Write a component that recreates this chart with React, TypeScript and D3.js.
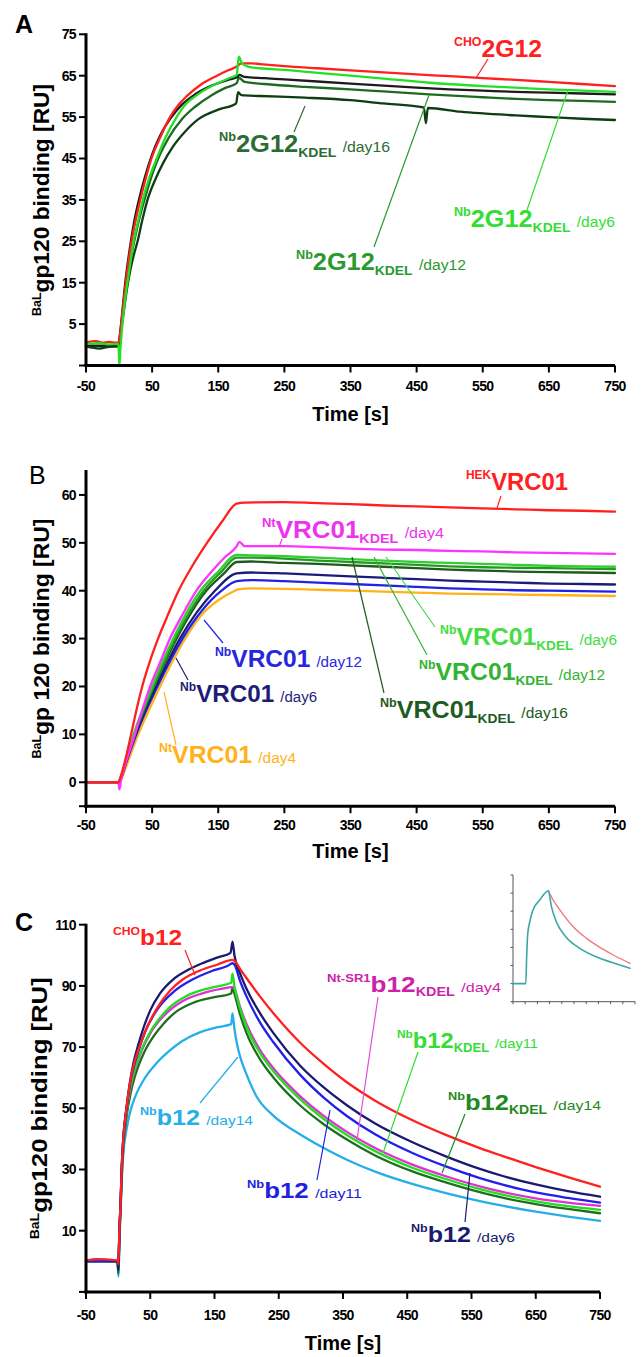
import React from 'react';
import * as d3 from 'd3';

type P = [number, number];

// ---------- Panel A : 2G12 ----------
const aTicksX = [-50, 50, 150, 250, 350, 450, 550, 650, 750];
const aTicksY = [5, 15, 25, 35, 45, 55, 65, 75];
const aCho: P[] = [[-50,0.6],[-35,0.9],[-25,0.5],[-15,0.7],[-5,0.5],[-1,0.5],[1,2],[4,6],[8,12],[11,16],[15,21],[19,25],[25,30],[32,35],[40,40],[49,45],[62,50],[77,55],[90,58],[102,60],[125,63],[148,65],[165,66.3],[178,67.2],[185,68],[200,68],[213,67.8],[250,67.3],[300,66.8],[350,66.3],[400,65.8],[450,65.3],[500,64.9],[550,64.4],[600,64],[650,63.5],[700,63],[750,62.5]];
const aBlack: P[] = [[-50,-0.2],[-1,-0.2],[1,2],[4,6.5],[8,13],[12,18.5],[16,23],[22,29],[30,35],[40,41],[50,46],[62,50.5],[77,54.5],[95,58],[115,60.5],[140,62.6],[165,64],[178,64.6],[182,65.2],[190,64.7],[220,64.4],[250,64.1],[300,63.6],[350,63.1],[400,62.6],[450,62.1],[500,61.7],[550,61.4],[600,61.1],[650,60.9],[700,60.7],[750,60.5]];
const aDay6: P[] = [[-50,0.2],[-30,0.4],[-15,0.1],[-1,0.2],[0.5,-5],[2,-1],[4,3],[7,8],[10,12],[15,17.5],[22,25],[29,30],[36,35],[45,40],[57,45],[70,50],[87,55],[100,58],[115,60],[140,62.5],[168,64.5],[178,65.2],[181,69.6],[186,68],[195,67.2],[213,66.8],[250,66.4],[300,65.7],[350,65],[400,64.3],[469,63.3],[550,62.5],[600,62.1],[650,61.7],[700,61.4],[750,61.1]];
const aDay12: P[] = [[-50,-0.3],[-1,-0.3],[1,1.5],[4,5.5],[8,10.5],[12,15],[16,19],[21,23.5],[27,28],[34,32.5],[42,37],[52,42],[62,46],[75,50],[95,54.5],[115,57.5],[140,60.3],[160,62],[178,63.2],[181,64.5],[190,63.5],[220,63],[281,62.3],[350,61.7],[400,61.2],[469,60.5],[550,59.8],[600,59.4],[650,59.1],[700,58.9],[750,58.7]];
const aDay16: P[] = [[-50,-0.4],[-30,-0.9],[-15,-0.5],[-1,-0.4],[1,1],[4,4.5],[8,9],[12,13.5],[17,18],[22,21.5],[28,25],[35,30],[43,35],[55,40],[67,44],[80,47.5],[100,51.5],[120,54.5],[150,56.8],[177,58.3],[180,61],[185,60.3],[213,60.1],[281,59.7],[350,59.1],[400,58.3],[450,57.6],[461,57.3],[464,53.5],[467,57.2],[516,56.3],[600,55.4],[650,55],[700,54.6],[750,54.3]];

// ---------- Panel B : VRC01 ----------
const bTicksX = [-50, 50, 150, 250, 350, 450, 550, 650, 750];
const bTicksY = [0, 10, 20, 30, 40, 50, 60];
const bHek: P[] = [[-50,0],[-1,0],[2,1],[10,5],[19,10.5],[27,15.5],[35,20],[46,25],[59,30],[74,35],[90,40],[110,45],[133,50],[155,54.3],[178,58.2],[190,58.4],[250,58.5],[300,58.3],[350,58.1],[400,57.8],[450,57.6],[500,57.4],[550,57.2],[600,57],[650,56.8],[700,56.7],[750,56.5]];
const bNtKdel4: P[] = [[-50,0],[-1,0],[0.5,-1.5],[3,0.5],[10,4],[24,10],[35,15],[47,20],[62,25],[77,30],[96,35],[117,40],[140,44],[160,47],[178,49.3],[182,50.2],[190,49.3],[250,49.3],[300,49.1],[350,48.8],[400,48.6],[450,48.5],[500,48.3],[550,48.2],[600,48],[650,47.9],[700,47.8],[750,47.7]];
const bKdel6: P[] = [[-50,0],[-1,0],[3,1],[10,4.5],[22,10],[50,20],[82,30],[123,40],[150,44],[178,47.5],[200,47.4],[250,47.2],[300,46.9],[350,46.6],[400,46.3],[450,46],[500,45.8],[550,45.6],[600,45.4],[650,45.2],[700,45.1],[750,45]];
const bKdel12: P[] = [[-50,0],[-1,0],[3,1],[10,4.3],[23,10],[52,20],[85,30],[128,40],[155,44],[178,46.9],[200,46.9],[250,46.7],[300,46.3],[350,46],[400,45.7],[450,45.4],[500,45.1],[550,44.9],[600,44.8],[650,44.7],[700,44.6],[750,44.5]];
const bKdel16: P[] = [[-50,0],[-1,0],[3,1],[10,4.2],[24,10],[53,20],[87,30],[132,40],[158,43.5],[178,46],[200,46.1],[250,45.8],[300,45.6],[350,45.3],[400,45],[450,44.7],[500,44.4],[550,44.2],[600,44],[650,43.9],[700,43.8],[750,43.7]];
const bDay6: P[] = [[-50,0],[-1,0],[3,1],[10,4],[25,10],[56,20],[92,30],[145,40],[178,43.6],[200,43.8],[250,43.6],[300,43.3],[350,43],[400,42.7],[450,42.4],[500,42.1],[550,41.9],[600,41.7],[650,41.5],[700,41.4],[750,41.3]];
const bDay12: P[] = [[-50,0],[-1,0],[3,0.8],[10,3.8],[26,10],[58,20],[96,30],[155,40],[178,42],[200,42.2],[250,42],[300,41.7],[350,41.4],[400,41.1],[450,40.8],[500,40.5],[550,40.3],[600,40.1],[650,40],[700,39.9],[750,39.8]];
const bNtDay4: P[] = [[-50,0],[-1,0],[3,0.5],[10,3],[29,10],[45,15],[62,20],[80,25],[100,30],[125,35],[150,38],[175,40],[180,40.3],[200,40.5],[250,40.4],[300,40.2],[350,40],[400,39.8],[450,39.6],[500,39.4],[550,39.3],[600,39.2],[650,39.1],[700,39],[750,38.9]];

// ---------- Panel C : b12 ----------
const cTicksX = [-50, 50, 150, 250, 350, 450, 550, 650, 750];
const cTicksY = [10, 30, 50, 70, 90, 110];
const cCho: P[] = [[-50,0.3],[-30,0.6],[-1,0.3],[0.5,-1],[2,10],[4,20],[5.5,30],[8,40],[13,50],[19,59],[26,65.5],[33,70],[45,76.5],[60,82.5],[81,88.5],[100,92],[127,95],[155,97],[178,98.5],[182,98],[190,95.5],[200,92.5],[221,86.5],[242,81],[283,71.5],[320,64.5],[356,58.5],[400,52.5],[459,46],[510,41.3],[563,37],[600,34.3],[650,30.8],[700,27.5],[750,24.4]];
const cDay6: P[] = [[-50,0],[-35,0.6],[-1,0],[0.5,-3],[2,10],[4,20],[5.5,30],[8,40],[13,50],[18,58],[24,65],[31,70.5],[39,76],[50,82],[65,87.5],[85,92],[107,95],[130,97.3],[155,99.3],[175,100.8],[178,104.5],[181,100],[190,94],[200,89],[221,81],[242,74.5],[283,64],[320,56.8],[356,51],[400,45],[459,38.8],[510,34.3],[563,30.2],[600,27.8],[650,25.1],[700,22.9],[750,21.1]];
const cDay11: P[] = [[-50,0],[-1,0],[0.5,-2],[2,10],[4,20],[5.5,30],[8,40],[13,50],[19,58.5],[25,64],[32,69],[42,75],[60,82],[89,88.5],[115,92],[145,94.8],[170,96.5],[178,97.4],[181,97],[190,91.5],[200,86.5],[221,78],[242,71.5],[283,61],[320,53.5],[356,47.5],[400,41.5],[459,35.3],[510,31],[563,27.2],[600,25],[650,22.5],[700,20.7],[750,19.2]];
const cSr1Kdel4: P[] = [[-50,0],[-1,0],[2,9],[4,19],[5.5,29],[8,39],[13,49],[19,56.5],[27,63],[37,69],[50,74.5],[70,80],[100,85],[130,87.5],[160,89],[178,89.6],[181,89],[190,83],[200,77.5],[221,69],[242,63],[283,54],[320,47.5],[356,42.3],[400,37],[459,31.5],[510,27.8],[563,24.5],[600,22.6],[650,20.6],[700,19.2],[750,18.1]];
const cKdel11: P[] = [[-50,0],[-1,0],[0.5,-3],[2,9],[4,19],[5.5,29],[8,39],[13,49],[19,57],[27,63.5],[37,69.5],[50,75],[65,79.5],[80,83],[100,86],[125,88.3],[153,89.8],[176,91],[178,94],[181,90],[190,82.5],[200,76.5],[221,68],[242,62],[283,53],[320,46.5],[356,41.3],[400,36],[459,30.5],[510,26.9],[563,23.6],[600,21.7],[650,19.6],[700,18],[750,16.8]];
const cKdel14: P[] = [[-50,0],[-1,0],[0.5,-4],[2,8],[4,18],[5.5,27],[8,37],[13,47],[19,54.5],[27,61],[41,68.5],[55,73.5],[70,77.5],[90,81.5],[117,84.5],[150,86.3],[176,87.5],[178,89.5],[181,87.5],[190,80.5],[200,74.5],[221,66],[242,60],[283,51],[320,44.8],[356,39.8],[400,34.6],[459,29.3],[510,25.8],[563,22.6],[600,20.7],[650,18.7],[700,17.1],[750,15.7]];
const cDay14: P[] = [[-50,0],[-1,0],[0.5,-5],[2,7],[4,17],[5.5,26],[8,35],[13,43],[19,49],[27,54],[42,60],[60,64.8],[81,69],[100,72],[127,74.8],[155,76.5],[176,77.5],[178,81],[181,76],[186,70],[192,65.5],[200,61],[215,54],[242,47.5],[283,41.5],[320,37],[356,33.2],[400,29.3],[459,25.2],[510,22.3],[563,19.7],[600,18.1],[650,16.2],[700,14.6],[750,13.2]];

// ---------- Inset ----------
const insetTeal: P[] = [[0,1],[1.05,1],[1.12,2.5],[1.2,3.7],[1.37,4.4],[1.64,5.07],[2.19,5.62],[2.9,6.13],[3.15,5.25],[3.56,4.4],[4.38,3.55],[5.48,2.95],[7.12,2.4],[8.77,2.03],[9.59,1.85]];
const insetRed: P[] = [[2.9,6.13],[3.29,5.62],[3.84,5.07],[4.93,4.14],[6.03,3.5],[7.12,3.0],[8.22,2.58],[9.59,2.12]];
const insetTicksX = [0,1,2,3,4,5,6,7,8,9,10];
const insetTicksY = [0,1,2,3,4,5,6,7];

const FONT = "'Liberation Sans', Arial, Helvetica, sans-serif";

const xA = d3.scaleLinear().domain([-50, 750]).range([86, 615]);
const yA = d3.scaleLinear().domain([-5, 75]).range([365.5, 34.3]);
const xB = d3.scaleLinear().domain([-50, 750]).range([86, 615]);
const yB = d3.scaleLinear().domain([-5, 65]).range([806.2, 471]);
const xC = d3.scaleLinear().domain([-50, 750]).range([86, 600]);
const yC = d3.scaleLinear().domain([-10, 110]).range([1291.9, 924.7]);
const xI = d3.scaleLinear().domain([0, 10]).range([513, 635]);
const yI = d3.scaleLinear().domain([0, 7]).range([1001.7, 875]);

type S = d3.ScaleLinear<number, number>;

function Curve({ data, x, y, color, w = 2.3 }: { data: P[]; x: S; y: S; color: string; w?: number }) {
  const line = d3.line<P>().x(d => x(d[0])).y(d => y(d[1])).curve(d3.curveMonotoneX);
  return <path d={line(data) || ''} fill="none" stroke={color} strokeWidth={w} strokeLinejoin="round" strokeLinecap="round" />;
}

function Axes({ x, y, xt, yt, labelY, titleY, ytitle, ytX, ytLen }: { x: S; y: S; xt: number[]; yt: number[]; labelY: number; titleY: number; ytitle: string; ytX: number; ytLen: number }) {
  const [x0, x1] = x.range();
  const [d0, d1] = y.domain();
  const yb = y(d0), yt0 = y(d1);
  const cx = (x0 + x1) / 2;
  const cy = (yb + yt0) / 2;
  return (
    <g fontFamily={FONT}>
      <line x1={x0} x2={x0} y1={yt0 - 1} y2={yb + 1.5} stroke="#000" strokeWidth={3} />
      <line x1={x0 - 1.5} x2={x1} y1={yb} y2={yb} stroke="#000" strokeWidth={3} />
      {yt.map(v => (
        <g key={'y' + v}>
          <line x1={x0 - 7} x2={x0} y1={y(v)} y2={y(v)} stroke="#000" strokeWidth={2} />
          <text x={x0 - 10} y={y(v)} dy="0.35em" textAnchor="end" fontSize={14} fontWeight="bold" letterSpacing={-0.6}>{v}</text>
        </g>
      ))}
      <line x1={x0 - 7} x2={x0} y1={yb} y2={yb} stroke="#000" strokeWidth={2} />
      {xt.map(v => (
        <g key={'x' + v}>
          <line x1={x(v)} x2={x(v)} y1={yb} y2={yb + 7} stroke="#000" strokeWidth={2} />
          <text x={x(v)} y={labelY} textAnchor="middle" fontSize={14} fontWeight="bold" letterSpacing={-0.6}>{v}</text>
        </g>
      ))}
      <text x={cx} y={titleY} textAnchor="middle" fontSize={20} fontWeight="bold">Time [s]</text>
      <text transform={`translate(${ytX},${cy}) rotate(-90)`} textAnchor="middle" fontWeight="bold" textLength={ytLen} lengthAdjust="spacingAndGlyphs">
        <tspan fontSize={12} dy={-8}>BaL</tspan>
        <tspan fontSize={22} dy={8}>{ytitle}</tspan>
      </text>
    </g>
  );
}

type Part = { t: string; k: 'sup' | 'main' | 'sub' | 'tail' };
function Label({ x, y, w, color, parts, size = 24 }: { x: number; y: number; w: number; color: string; parts: Part[]; size?: number }) {
  let shift = 0;
  const spans = parts.map((p, i) => {
    let target = 0;
    let fs = size;
    let fw: any = 'bold';
    let dx = 0;
    if (p.k === 'sup') { target = -0.45 * size; fs = 0.5 * size; }
    else if (p.k === 'sub') { target = 0.2 * size; fs = 0.55 * size; }
    else if (p.k === 'tail') { target = 0; fs = 0.62 * size; fw = 'normal'; dx = 0.25 * size; }
    const dy = target - shift;
    shift = target;
    return <tspan key={i} dy={dy} dx={dx} fontSize={fs} fontWeight={fw}>{p.t}</tspan>;
  });
  return (
    <text x={x} y={y} fill={color} fontFamily={FONT} textLength={w} lengthAdjust="spacingAndGlyphs">{spans}</text>
  );
}

function Ptr({ a, b, color }: { a: P; b: P; color: string }) {
  return <line x1={a[0]} y1={a[1]} x2={b[0]} y2={b[1]} stroke={color} strokeWidth={1.2} />;
}

const RED = '#ff2020';

export default function App() {
  return (
    <svg width={641} height={1357} viewBox="0 0 641 1357" style={{ position: 'absolute', left: 0, top: 0, background: '#fff' }}>
      <rect width={641} height={1357} fill="#fff" />
      {/* Panel letters */}
      <text x={15} y={33} fontFamily={FONT} fontSize={25} fontWeight="bold">A</text>
      <text x={29} y={484} fontFamily={FONT} fontSize={25}>B</text>
      <text x={15} y={931} fontFamily={FONT} fontSize={25} fontWeight="bold">C</text>

      {/* ---------- Panel A ---------- */}
      <Curve data={aDay16} x={xA} y={yA} color="#0f3d12" />
      <Curve data={aDay12} x={xA} y={yA} color="#1f6a22" />
      <Curve data={aBlack} x={xA} y={yA} color="#1c1c1c" />
      <Curve data={aCho} x={xA} y={yA} color={RED} />
      <Curve data={aDay6} x={xA} y={yA} color="#22e022" />
      <Axes x={xA} y={yA} xt={aTicksX} yt={aTicksY} labelY={391} titleY={421} ytitle="gp120 binding [RU]" ytX={49} ytLen={232} />
      <Label x={454} y={57} w={88} color={RED} parts={[{ t: 'CHO', k: 'sup' }, { t: '2G12', k: 'main' }]} />
      <Ptr a={[488, 59]} b={[476, 78]} color={RED} />
      <Label x={219} y={152} w={171} color="#2d6b34" parts={[{ t: 'Nb', k: 'sup' }, { t: '2G12', k: 'main' }, { t: 'KDEL', k: 'sub' }, { t: '/day16', k: 'tail' }]} />
      <Ptr a={[294, 132]} b={[305, 106]} color="#2d6b34" />
      <Label x={296} y={270} w={170} color="#2a9a30" parts={[{ t: 'Nb', k: 'sup' }, { t: '2G12', k: 'main' }, { t: 'KDEL', k: 'sub' }, { t: '/day12', k: 'tail' }]} />
      <Ptr a={[374, 247]} b={[429, 95]} color="#2a9a30" />
      <Label x={454} y={227} w={161} color="#33dd33" parts={[{ t: 'Nb', k: 'sup' }, { t: '2G12', k: 'main' }, { t: 'KDEL', k: 'sub' }, { t: '/day6', k: 'tail' }]} />
      <Ptr a={[527, 210]} b={[568, 90]} color="#33dd33" />

      {/* ---------- Panel B ---------- */}
      <Curve data={bNtDay4} x={xB} y={yB} color="#ffb21a" />
      <Curve data={bDay12} x={xB} y={yB} color="#2222e6" />
      <Curve data={bDay6} x={xB} y={yB} color="#1b1b7a" />
      <Curve data={bKdel16} x={xB} y={yB} color="#1d5a1d" />
      <Curve data={bKdel12} x={xB} y={yB} color="#229a22" />
      <Curve data={bKdel6} x={xB} y={yB} color="#33cc33" />
      <Curve data={bNtKdel4} x={xB} y={yB} color="#ff33ff" />
      <Curve data={bHek} x={xB} y={yB} color={RED} />
      <Axes x={xB} y={yB} xt={bTicksX} yt={bTicksY} labelY={830} titleY={858} ytitle="gp 120 binding [RU]" ytX={49} ytLen={240} />
      <Label x={466} y={490} w={102} color={RED} parts={[{ t: 'HEK', k: 'sup' }, { t: 'VRC01', k: 'main' }]} />
      <Ptr a={[501, 496]} b={[497, 508]} color={RED} />
      <Label x={262} y={538} w={182} color="#ee33ee" parts={[{ t: 'Nt', k: 'sup' }, { t: 'VRC01', k: 'main' }, { t: 'KDEL', k: 'sub' }, { t: '/day4', k: 'tail' }]} />
      <Ptr a={[282, 539]} b={[279, 547]} color="#ee33ee" />
      <Label x={440} y={645} w={177} color="#44dd44" parts={[{ t: 'Nb', k: 'sup' }, { t: 'VRC01', k: 'main' }, { t: 'KDEL', k: 'sub' }, { t: '/day6', k: 'tail' }]} />
      <Ptr a={[386, 557]} b={[435, 627]} color="#44dd44" />
      <Label x={419} y={680} w={186} color="#33b333" parts={[{ t: 'Nb', k: 'sup' }, { t: 'VRC01', k: 'main' }, { t: 'KDEL', k: 'sub' }, { t: '/day12', k: 'tail' }]} />
      <Ptr a={[374, 557]} b={[427, 655]} color="#33b333" />
      <Label x={380} y={718} w={188} color="#1e5a24" parts={[{ t: 'Nb', k: 'sup' }, { t: 'VRC01', k: 'main' }, { t: 'KDEL', k: 'sub' }, { t: '/day16', k: 'tail' }]} />
      <Ptr a={[352, 557]} b={[384, 693]} color="#1e5a24" />
      <Label x={215} y={667} w={147} color="#2626e0" parts={[{ t: 'Nb', k: 'sup' }, { t: 'VRC01', k: 'main' }, { t: '/day12', k: 'tail' }]} />
      <Ptr a={[204, 620]} b={[223, 643]} color="#2626e0" />
      <Label x={180} y={702} w={137} color="#1d1d78" parts={[{ t: 'Nb', k: 'sup' }, { t: 'VRC01', k: 'main' }, { t: '/day6', k: 'tail' }]} />
      <Ptr a={[176, 658]} b={[188, 680]} color="#1d1d78" />
      <Label x={159} y={763} w={137} color="#ffb21a" parts={[{ t: 'Nt', k: 'sup' }, { t: 'VRC01', k: 'main' }, { t: '/day4', k: 'tail' }]} />
      <Ptr a={[164, 692]} b={[176, 745]} color="#ffb21a" />

      {/* ---------- Panel C ---------- */}
      <Curve data={cDay14} x={xC} y={yC} color="#26aee8" />
      <Curve data={cKdel14} x={xC} y={yC} color="#1c701c" />
      <Curve data={cSr1Kdel4} x={xC} y={yC} color="#e030d0" />
      <Curve data={cKdel11} x={xC} y={yC} color="#22dd22" />
      <Curve data={cDay11} x={xC} y={yC} color="#2020e8" />
      <Curve data={cDay6} x={xC} y={yC} color="#1a1a70" />
      <Curve data={cCho} x={xC} y={yC} color={RED} />
      <Axes x={xC} y={yC} xt={cTicksX} yt={cTicksY} labelY={1320} titleY={1350} ytitle="gp120 binding [RU]" ytX={47} ytLen={262} />
      <Label x={113} y={945} w={69} size={22} color={RED} parts={[{ t: 'CHO', k: 'sup' }, { t: 'b12', k: 'main' }]} />
      <Ptr a={[185, 950]} b={[195, 975]} color={RED} />
      <Label x={327} y={992} w={174} size={22} color="#cc22aa" parts={[{ t: 'Nt-SR1', k: 'sup' }, { t: 'b12', k: 'main' }, { t: 'KDEL', k: 'sub' }, { t: '/day4', k: 'tail' }]} />
      <Ptr a={[378, 997]} b={[357, 1140]} color="#e04ce0" />
      <Label x={397} y={1048} w={141} size={22} color="#33dd33" parts={[{ t: 'Nb', k: 'sup' }, { t: 'b12', k: 'main' }, { t: 'KDEL', k: 'sub' }, { t: '/day11', k: 'tail' }]} />
      <Ptr a={[418, 1052]} b={[383, 1153]} color="#33dd33" />
      <Label x={448} y={1110} w={153} size={22} color="#1f8a1f" parts={[{ t: 'Nb', k: 'sup' }, { t: 'b12', k: 'main' }, { t: 'KDEL', k: 'sub' }, { t: '/day14', k: 'tail' }]} />
      <Ptr a={[465, 1114]} b={[442, 1173]} color="#1f8a1f" />
      <Label x={140} y={1125} w={113} size={22} color="#26aee8" parts={[{ t: 'Nb', k: 'sup' }, { t: 'b12', k: 'main' }, { t: '/day14', k: 'tail' }]} />
      <Ptr a={[200, 1103]} b={[238, 1057]} color="#26aee8" />
      <Label x={247} y={1198} w={115} size={22} color="#2222dd" parts={[{ t: 'Nb', k: 'sup' }, { t: 'b12', k: 'main' }, { t: '/day11', k: 'tail' }]} />
      <Ptr a={[317, 1180]} b={[330, 1110]} color="#2222dd" />
      <Label x={411} y={1242} w={104} size={22} color="#1a1a70" parts={[{ t: 'Nb', k: 'sup' }, { t: 'b12', k: 'main' }, { t: '/day6', k: 'tail' }]} />
      <Ptr a={[465, 1222]} b={[470, 1173]} color="#1a1a70" />

      {/* ---------- Inset ---------- */}
      <g>
        <line x1={xI(0)} x2={xI(0)} y1={yI(7)} y2={yI(0)} stroke="#555" strokeWidth={1} />
        <line x1={xI(0)} x2={xI(10)} y1={yI(0)} y2={yI(0)} stroke="#555" strokeWidth={1} />
        {insetTicksX.map(t => <line key={'ix' + t} x1={xI(t)} x2={xI(t)} y1={yI(0)} y2={yI(0) + 2.5} stroke="#555" strokeWidth={1} />)}
        {insetTicksY.map(t => <line key={'iy' + t} x1={xI(0) - 2.5} x2={xI(0)} y1={yI(t)} y2={yI(t)} stroke="#555" strokeWidth={1} />)}
        <Curve data={insetRed} x={xI} y={yI} color="#f07a7a" w={1.4} />
        <Curve data={insetTeal} x={xI} y={yI} color="#3aa6a6" w={1.6} />
      </g>
    </svg>
  );
}
